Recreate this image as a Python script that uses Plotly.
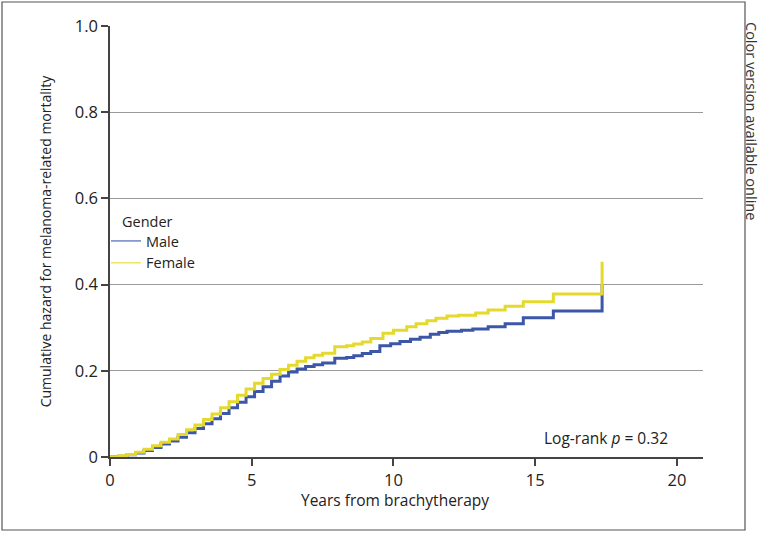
import plotly.graph_objects as go

# ---- data ----
male_t = [0, 0.3, 0.6, 0.9, 1.2, 1.5, 1.8, 2.1, 2.4, 2.7, 3.0, 3.3, 3.6, 3.9, 4.2, 4.5, 4.8,
          5.1, 5.4, 5.7, 6.0, 6.3, 6.6, 6.9, 7.2, 7.5, 7.93, 8.35, 8.6, 8.9, 9.2, 9.52, 9.9,
          10.23, 10.6, 10.94, 11.3, 11.6, 11.89, 12.4, 12.8, 13.34, 13.94, 14.58, 15.64, 17.36]
male_h = [0, 0.002, 0.005, 0.009, 0.015, 0.022, 0.030, 0.037, 0.046, 0.056, 0.066, 0.077, 0.089,
          0.101, 0.114, 0.127, 0.140, 0.152, 0.163, 0.176, 0.188, 0.197, 0.204, 0.210, 0.214,
          0.218, 0.229, 0.231, 0.235, 0.240, 0.245, 0.258, 0.263, 0.268, 0.273, 0.278, 0.285,
          0.289, 0.292, 0.294, 0.297, 0.302, 0.309, 0.323, 0.339, 0.400]

female_t = [0, 0.3, 0.6, 0.9, 1.2, 1.5, 1.8, 2.1, 2.4, 2.7, 3.0, 3.3, 3.6, 3.9, 4.2, 4.5, 4.8,
            5.1, 5.4, 5.7, 6.0, 6.3, 6.6, 6.9, 7.2, 7.5, 7.93, 8.35, 8.6, 8.9, 9.2, 9.63, 10.0,
            10.47, 10.8, 11.18, 11.5, 11.89, 12.3, 12.9, 13.34, 13.94, 14.58, 15.64, 17.36]
female_h = [0, 0.003, 0.006, 0.011, 0.018, 0.026, 0.034, 0.042, 0.052, 0.063, 0.074, 0.087, 0.100,
            0.114, 0.128, 0.143, 0.158, 0.171, 0.182, 0.192, 0.203, 0.213, 0.222, 0.230, 0.236,
            0.241, 0.256, 0.258, 0.262, 0.267, 0.275, 0.287, 0.294, 0.302, 0.309, 0.316, 0.322,
            0.327, 0.329, 0.334, 0.341, 0.350, 0.360, 0.378, 0.453]

x_ticks = [0, 5, 10, 15, 20]
y_ticks = [0, 0.2, 0.4, 0.6, 0.8, 1.0]
y_tick_labels = ["0", "0.2", "0.4", "0.6", "0.8", "1.0"]
grid_vals = [0.2, 0.4, 0.6, 0.8]

BLUE = "#3C57A8"
YELLOW = "#E4D92C"
FONT = "Open Sans"
W, H = 761, 533
ML, MR, MT, MB = 110, 58, 26, 76

fig = go.Figure()
# invisible trace to activate the grid axis (drawn first)
fig.add_trace(go.Scatter(x=[0], y=[0], yaxis="y2", mode="markers",
                         marker=dict(opacity=0), showlegend=False, hoverinfo="skip"))
fig.add_trace(go.Scatter(x=male_t, y=male_h, mode="lines", name="Male", legendgroup="m",
                         showlegend=False, line=dict(color=BLUE, width=3, shape="hv")))
fig.add_trace(go.Scatter(x=female_t, y=female_h, mode="lines", name="Female", legendgroup="f",
                         showlegend=False, line=dict(color=YELLOW, width=3, shape="hv")))
# legend entries with thin keys, as in the reference
fig.add_trace(go.Scatter(x=[None], y=[None], mode="lines", name="Male", legendgroup="m",
                         line=dict(color="#6F84C2", width=1.5)))
fig.add_trace(go.Scatter(x=[None], y=[None], mode="lines", name="Female", legendgroup="f",
                         line=dict(color="#EDE46A", width=1.5)))

pw = W - ML - MR
ph = H - MT - MB
def px2paper_x(p):
    return (p - ML) / pw
def px2paper_y(p):
    return (H - MB - p) / ph

fig.update_layout(
    width=W, height=H,
    margin=dict(l=ML, r=MR, t=MT, b=MB),
    paper_bgcolor="white", plot_bgcolor="white",
    font=dict(family=FONT, size=15, color="#222"),
    showlegend=True,
    legend=dict(x=px2paper_x(106), y=px2paper_y(225), xanchor="left", yanchor="top",
                bgcolor="rgba(0,0,0,0)", font=dict(size=14.5), itemwidth=30,
                tracegroupgap=0),
    xaxis=dict(range=[0, 20.92], tickvals=x_ticks, showgrid=False, zeroline=False,
               showline=True, linecolor="#444", linewidth=1.5,
               ticks="outside", ticklen=7, tickcolor="#444", tickwidth=1.5,
               tickfont=dict(size=16.5)),
    yaxis=dict(range=[0, 1.0], tickvals=y_ticks, ticktext=y_tick_labels, showgrid=False,
               zeroline=False, showline=True, linecolor="#444", linewidth=1.5,
               ticks="outside", ticklen=7, tickcolor="#444", tickwidth=1.5,
               title=dict(text="Cumulative hazard for melanoma-related mortality", standoff=20,
                          font=dict(size=14)),
               tickfont=dict(size=16.5)),
    yaxis2=dict(range=[0, 1.0], overlaying="y", tickvals=grid_vals, showgrid=True,
                gridcolor="#9a9a9a", gridwidth=1, showticklabels=False, zeroline=False,
                showline=False, ticks="", layer="below traces"),
)

fig.add_annotation(text="Years from brachytherapy", xref="paper", yref="paper",
                   x=px2paper_x(394.5), y=px2paper_y(500), xanchor="center", yanchor="middle",
                   showarrow=False, font=dict(size=15.5))
fig.add_annotation(text="Gender", xref="paper", yref="paper",
                   x=px2paper_x(120), y=px2paper_y(221), xanchor="left", yanchor="middle",
                   showarrow=False, font=dict(size=14.5))
fig.add_annotation(text="Log-rank <i>p</i> = 0.32", xref="paper", yref="paper",
                   x=px2paper_x(606), y=px2paper_y(438), xanchor="center", yanchor="middle",
                   showarrow=False, font=dict(size=15.5))
fig.add_annotation(text="Color version available online", xref="paper", yref="paper",
                   x=px2paper_x(752), y=px2paper_y(121), textangle=90,
                   xanchor="center", yanchor="middle", showarrow=False,
                   font=dict(size=14.5, color="#333"))
fig.add_shape(type="rect", xref="paper", yref="paper",
              x0=px2paper_x(2), x1=px2paper_x(745), y0=px2paper_y(530), y1=px2paper_y(2),
              line=dict(color="#555", width=1.2), fillcolor="rgba(0,0,0,0)", layer="below")

fig.write_html("out.html", config={"displayModeBar": False},
               post_script="document.body.style.margin='0';document.body.style.overflow='hidden';")
